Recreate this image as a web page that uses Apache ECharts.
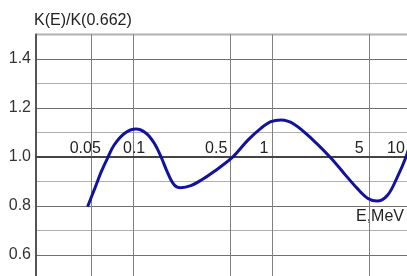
<!DOCTYPE html>
<html>
<head>
<meta charset="utf-8">
<script src="https://cdn.jsdelivr.net/npm/echarts@6/dist/echarts.min.js"></script>
<style>
  html, body { margin: 0; padding: 0; background: #fff; }
  #chart { width: 407px; height: 276px; }
</style>
</head>
<body>
<div id="chart"></div>
<script>
// energy, MeV (log axis) and relative response K(E)/K(0.662)
const energy = [0.047, 0.053, 0.059, 0.066, 0.073, 0.087, 0.105, 0.124, 0.142, 0.159, 0.178, 0.198, 0.22, 0.26, 0.31, 0.38, 0.51, 0.67, 0.83, 0.98, 1.16, 1.45, 2.0, 2.66, 3.3, 4.1, 4.9, 5.7, 6.8, 8.0, 9.2, 10]
const ratio = [0.797, 0.872, 0.94, 1.0, 1.049, 1.097, 1.114, 1.097, 1.056, 1.0, 0.933, 0.886, 0.875, 0.883, 0.906, 0.94, 0.995, 1.069, 1.117, 1.144, 1.151, 1.133, 1.066, 0.995, 0.933, 0.872, 0.831, 0.82, 0.845, 0.92, 1.0, 1.07]

const xTicks = [0.05, 0.1, 0.5, 1, 5, 10]
const yMin = 0.5
const yMax = 1.5
const yStep = 0.1

// small horizontal nudges of the x tick labels, as in the original drawing
const labelShift = { '0.05': -6, '0.1': 1, '0.5': -14, '1': -8, '5': -10, '10': -15 }

const chart = echarts.init(document.getElementById('chart'), null, { renderer: 'canvas' })

const font = '"Liberation Sans", Arial, sans-serif'

const rich = {}
Object.keys(labelShift).forEach((k, i) => {
  const d = labelShift[k]
  rich['t' + i] = {
    color: '#222',
    fontFamily: font,
    fontSize: 16,
    padding: d < 0 ? [0, -2 * d, 0, 0] : [0, 0, 0, 2 * d]
  }
})

chart.setOption({
  animation: false,
  backgroundColor: '#fff',
  grid: {
    left: 36,
    top: 34.5,
    right: -4,
    bottom: -3.5,
    outerBoundsMode: 'none',
    containLabel: false,
    show: true,
    borderColor: '#666',
    borderWidth: 1.5
  },
  xAxis: {
    type: 'log',
    logBase: 10,
    min: 0.02,
    max: 10,
    position: 'bottom',
    offset: -122.5,
    axisLine: { lineStyle: { color: '#444', width: 2 } },
    axisTick: { show: false, customValues: xTicks },
    axisLabel: {
      inside: true,
      margin: 0,
      customValues: xTicks,
      color: '#222',
      fontFamily: font,
      fontSize: 16,
      rich: rich,
      formatter: (v) => {
        const key = String(+v.toPrecision(6))
        const i = Object.keys(labelShift).indexOf(key)
        return i >= 0 ? '{t' + i + '|' + key + '}' : key
      }
    },
    splitLine: { show: true, lineStyle: { color: '#808080', width: 1 } },
    minorSplitLine: { show: false }
  },
  yAxis: {
    type: 'value',
    min: yMin,
    max: yMax,
    interval: yStep,
    name: 'K(E)/K(0.662)',
    nameLocation: 'end',
    nameGap: 6,
    nameTextStyle: { color: '#222', fontFamily: font, fontSize: 16, align: 'left', padding: [0, 0, 0, -2] },
    axisLine: { show: true, lineStyle: { color: '#555', width: 2 } },
    axisTick: { show: false },
    axisLabel: {
      color: '#333',
      fontFamily: font,
      fontSize: 16,
      margin: 5,
      formatter: (v) => {
        const k = Math.round(v * 10)
        return (k % 2 === 0 && k > 5 && k < 15) ? (k / 10).toFixed(1) : ''
      }
    },
    splitLine: { show: true, lineStyle: { color: ['#b0b0b0', '#707070'], width: 1.2 } }
  },
  graphic: [{
    type: 'text',
    right: 3,
    top: 209,
    style: { text: 'E,MeV', fill: '#222', font: '16px ' + font }
  }],
  series: [{
    type: 'line',
    data: energy.map((e, i) => [e, ratio[i]]),
    smooth: 0.35,
    showSymbol: false,
    lineStyle: { color: '#12129c', width: 3 }
  }]
})
</script>
</body>
</html>
